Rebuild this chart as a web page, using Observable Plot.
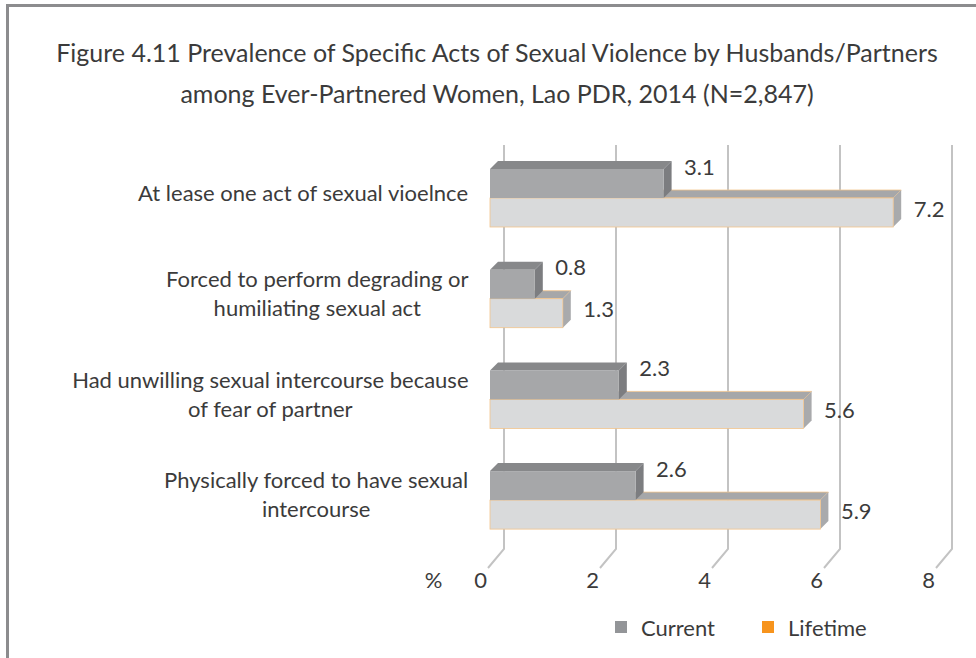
<!DOCTYPE html>
<html>
<head>
<meta charset="utf-8">
<script src="https://cdn.jsdelivr.net/npm/d3@7"></script>
<script src="https://cdn.jsdelivr.net/npm/@observablehq/plot@0.6"></script>
<style>
  html, body { margin: 0; padding: 0; background: #fff; }
  #wrap { position: relative; width: 976px; height: 658px; overflow: hidden; font-family: Lato, sans-serif; color: #3b3b3b; }
  .border-top { position: absolute; left: 6px; top: 4px; width: 970px; height: 3px; background: #8c8c8e; }
  .border-left { position: absolute; left: 6px; top: 4px; width: 3px; height: 654px; background: #8c8c8e; }
  #title { position: absolute; left: 17px; top: 32px; width: 960px; text-align: center; font-size: 25px; line-height: 41px; }
  #chart { position: absolute; left: 0; top: 130px; }
  #legend { position: absolute; top: 614px; left: 0; width: 976px; height: 26px; font-size: 22px; }
  .key { position: absolute; top: 0; display: flex; align-items: center; height: 26px; }
  .sw { width: 12px; height: 12px; margin-right: 14px; }
</style>
</head>
<body>
<div id="wrap">
  <div class="border-top"></div>
  <div class="border-left"></div>
  <div id="title">Figure 4.11 Prevalence of Specific Acts of Sexual Violence by Husbands/Partners<br>among Ever-Partnered Women, Lao PDR, 2014 (N=2,847)</div>
  <div id="chart"></div>
  <div id="legend"></div>
</div>
<script>
// ---- data ----
const categories = [
  "At lease one act of sexual vioelnce",
  "Forced to perform degrading or humiliating sexual act",
  "Had unwilling sexual intercourse because of fear of partner",
  "Physically forced to have sexual intercourse"
];
const categoryLabels = [
  "At lease one act of sexual vioelnce",
  "Forced to perform degrading or\nhumiliating sexual act",
  "Had unwilling sexual intercourse because\nof fear of partner",
  "Physically forced to have sexual\nintercourse"
];
const series = ["Current", "Lifetime"];
const currentValues = [3.1, 0.8, 2.3, 2.6];
const lifetimeValues = [7.2, 1.3, 5.6, 5.9];
const xTicks = [0, 2, 4, 6, 8];
const axisUnit = "%";

// ---- styles ----
const faceColors = {
  Current: {front: "#a6a7a9", top: "#87888a", side: "#7c7d80", stroke: "none"},
  Lifetime: {front: "#d9dadb", top: "#a6a7a9", side: "#a9aaac", stroke: "#f2c48c"}
};
const legendColors = {Current: "#939598", Lifetime: "#f7941d"};
const DX = 8, DY = 8;
const FS = 22;

// table: lifetime rows first so current boxes are drawn over them
const rows = [];
categories.forEach((c, i) => rows.push({cat: c, series: "Lifetime", value: lifetimeValues[i]}));
categories.forEach((c, i) => rows.push({cat: c, series: "Current", value: currentValues[i]}));

function box3d(index, scales, values) {
  const g = d3.create("svg:g");
  const bw = scales.y.bandwidth();
  for (const i of index) {
    const r = rows[i];
    const col = faceColors[r.series];
    const x0 = values.x1[i], x1 = values.x2[i];
    const yTop = values.y[i] + (r.series === "Current" ? 0 : bw / 2);
    const yBot = yTop + bw / 2;
    g.append("polygon")
      .attr("points", `${x0},${yTop} ${x0 + DX},${yTop - DY} ${x1 + DX},${yTop - DY} ${x1},${yTop}`)
      .attr("fill", col.top).attr("stroke", col.stroke).attr("stroke-width", 0.8);
    g.append("polygon")
      .attr("points", `${x1},${yTop} ${x1 + DX},${yTop - DY} ${x1 + DX},${yBot - DY} ${x1},${yBot}`)
      .attr("fill", col.side);
    g.append("rect")
      .attr("x", x0).attr("y", yTop).attr("width", x1 - x0).attr("height", yBot - yTop)
      .attr("fill", col.front).attr("stroke", col.stroke).attr("stroke-width", 0.8);
  }
  return g.node();
}

function grid3d(index, scales, values, dims) {
  const g = d3.create("svg:g").attr("stroke", "#c3c3c3").attr("stroke-width", 2).attr("fill", "none");
  const yt = dims.marginTop, yb = dims.height - dims.marginBottom;
  for (const i of index) {
    const x = values.x[i];
    g.append("path").attr("d", `M${x + 14},${yt}V${yb}L${x - 2},${yb + 19}`);
  }
  return g.node();
}

// measure label widths so that wrapped lines are centred within a right-aligned block
const ctx = document.createElement("canvas").getContext("2d");
ctx.font = `${FS}px Lato`;
const labelMarks = categories.map((c, i) => {
  const lines = categoryLabels[i].split("\n");
  const w = Math.max(...lines.map(l => ctx.measureText(l).width));
  return Plot.text([c], {
    y: d => d, text: () => categoryLabels[i], frameAnchor: "left",
    textAnchor: "middle", dx: -22 - w / 2, dy: -7, lineHeight: 1.32, fontSize: FS, fill: "#3b3b3b"
  });
});

const chart = Plot.plot({
  width: 976,
  height: 480,
  marginLeft: 490,
  marginRight: 38,
  marginTop: 15,
  marginBottom: 61,
  style: {fontFamily: "Lato, sans-serif", fontSize: FS + "px", color: "#3b3b3b", background: "transparent"},
  x: {domain: [0, 8], axis: null},
  y: {domain: categories, range: [39, 399.1], paddingInner: 0.424, paddingOuter: 0, round: false, axis: null},
  marks: [
    Plot.ruleX(xTicks, {x: d => d, render: grid3d}),
    Plot.barX(rows, {x1: () => 0, x2: "value", y: "cat", render: box3d}),
    Plot.text(rows.filter(d => d.series === "Current"), {x: "value", y: "cat", text: d => d.value.toFixed(1), textAnchor: "start", dx: 20, dy: -31, fontSize: FS, fill: "#3b3b3b"}),
    Plot.text(rows.filter(d => d.series === "Lifetime"), {x: "value", y: "cat", text: d => d.value.toFixed(1), textAnchor: "start", dx: 20, dy: 11, fontSize: FS, fill: "#3b3b3b"}),
    Plot.text(xTicks, {x: d => d, text: d => String(d), frameAnchor: "bottom", dx: -10, dy: 38, fontSize: FS, fill: "#3b3b3b"}),
    Plot.text([axisUnit], {x: () => 0, text: d => d, frameAnchor: "bottom", dx: -57, dy: 38, fontSize: FS, fill: "#3b3b3b"}),
    ...labelMarks
  ]
});
document.getElementById("chart").appendChild(chart);

// legend
const legend = d3.select("#legend");
const legendX = {Current: 615, Lifetime: 762};
series.forEach(s => {
  const k = legend.append("div").attr("class", "key").style("left", legendX[s] + "px");
  k.append("div").attr("class", "sw").style("background", legendColors[s]);
  k.append("span").text(s);
});
</script>
</body>
</html>
